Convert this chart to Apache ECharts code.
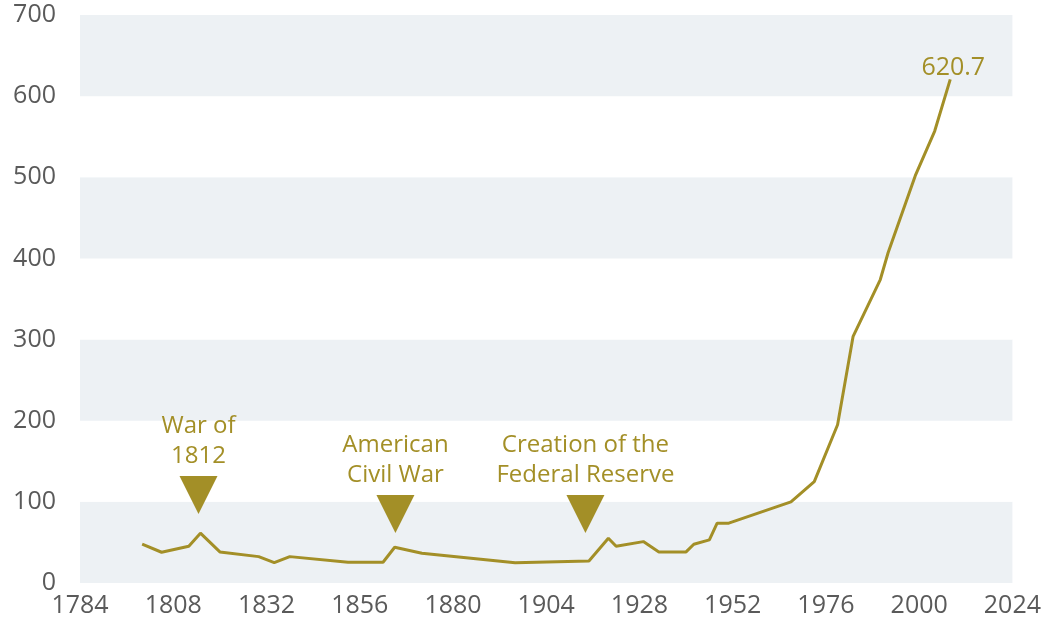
<!DOCTYPE html>
<html>
<head>
<meta charset="utf-8">
<script src="https://cdn.jsdelivr.net/npm/echarts@6/dist/echarts.min.js"></script>
<style>
html,body{margin:0;padding:0;background:#fff;}
#chart{width:1044px;height:625px;}
</style>
</head>
<body>
<div id="chart"></div>
<script>
// Data
const years  = [1800, 1805, 1812, 1815, 1820, 1830, 1834, 1838, 1853, 1862, 1865, 1872, 1896, 1915, 1920, 1922, 1929, 1933, 1940, 1942, 1946, 1948, 1951, 1967, 1973, 1979, 1983, 1990, 1992, 1999, 2004, 2008];
const values = [47.8, 37.9, 45.3, 61.4, 38.3, 32.5, 25.1, 32.5, 25.6, 25.6, 44.1, 36.7, 25.1, 27.2, 55.2, 45.3, 51.0, 38.3, 38.3, 47.8, 53.1, 73.7, 73.7, 100, 125, 195, 304, 374, 407, 502, 557, 620.7];
const lastLabel = '620.7';

const eventYears  = [1814.5, 1865.2, 1914.1];
const eventValues = [108.6, 85, 85];
const eventLabels = ['War of\n1812', 'American\nCivil War', 'Creation of the\nFederal Reserve'];

const xMin = 1784, xMax = 2024, xStep = 24;
const yMin = 0, yMax = 700, yStep = 100;

const gold = '#A38F27';
const font = '"Open Sans", "Noto Sans", sans-serif';

const lineData = years.map((y, i) => [y, values[i]]);

const markData = eventYears.map((y, i) => ({
  coord: [y, eventValues[i]],
  label: { formatter: eventLabels[i] }
}));

const chart = echarts.init(document.getElementById('chart'), null, { renderer: 'canvas' });
chart.setOption({
  animation: false,
  backgroundColor: '#ffffff',
  grid: { left: 80, right: 27, top: 15, bottom: 42, containLabel: false },
  xAxis: {
    type: 'value', min: xMin, max: xMax, interval: xStep,
    axisLine: { show: false }, axisTick: { show: false }, splitLine: { show: false },
    axisLabel: {
      formatter: v => String(v), color: '#5a5a5a', fontSize: 25, fontFamily: font, margin: 10
    }
  },
  yAxis: {
    type: 'value', min: yMin, max: yMax, interval: yStep,
    axisLine: { show: false }, axisTick: { show: false }, splitLine: { show: false },
    splitArea: { show: true, areaStyle: { color: ['#EDF1F4', '#ffffff'] } },
    axisLabel: { color: '#5a5a5a', fontSize: 25, fontFamily: font, margin: 24 }
  },
  series: [{
    type: 'line',
    data: lineData,
    symbol: 'none',
    showSymbol: false,
    lineStyle: { color: gold, width: 3 },
    itemStyle: { color: gold },
    endLabel: {
      show: true,
      formatter: lastLabel,
      color: gold, fontSize: 25, fontFamily: font,
      align: 'center', verticalAlign: 'bottom',
      offset: [3, 1],
      distance: 0
    },
    markPoint: {
      symbol: 'triangle',
      symbolRotate: 180,
      symbolSize: [38, 38],
      itemStyle: { color: gold },
      label: {
        show: true, position: 'top', distance: 5,
        color: gold, fontSize: 24, lineHeight: 30, fontFamily: font, align: 'center'
      },
      data: markData
    }
  }]
});
</script>
</body>
</html>
